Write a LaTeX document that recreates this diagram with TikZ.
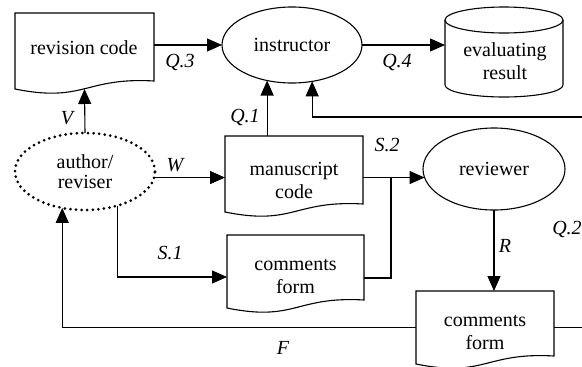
\documentclass[tikz,border=0pt]{standalone}
\usepackage{fontspec}
\setmainfont{Liberation Serif}
\usetikzlibrary{arrows.meta,calc,shapes.geometric}
\newcommand\docoutline[1]{\draw[ln] (#1.south west) -- (#1.north west) -- (#1.north east) -- ([yshift=8pt]#1.south east) .. controls ([yshift=12pt]#1.south) and ([yshift=-14pt]#1.south) .. (#1.south west) -- cycle;}
\begin{document}
\begin{tikzpicture}[x=1pt,y=-1pt,
  every node/.style={font=\fontsize{20}{23}\selectfont},
  ln/.style={line width=1.1pt},
  arr/.style={ln,-{Triangle[length=15pt,width=13pt]}},
  docbox/.style={draw=none,rectangle,inner sep=0pt,outer sep=0pt},
  oval/.style={draw,ellipse,line width=1.1pt,inner sep=0pt,outer sep=0pt},
  dotoval/.style={draw,ellipse,inner sep=0pt,outer sep=0pt,line width=3pt,dash pattern=on 0pt off 5.6pt,line cap=round},
  lbl/.style={font=\fontsize{20}{23}\selectfont\itshape},
  txt/.style={align=center}]
\fill[white] (0,0) rectangle (582,367);
\useasboundingbox (0,0) rectangle (582,367);
\clip (0,0) rectangle (582,367);

% nodes
\node[docbox,minimum width=139pt,minimum height=76pt] (rc) at (84.5,51) {};
\node[oval,minimum width=140pt,minimum height=76pt] (ins) at (292,45) {instructor};
\node[docbox,minimum width=118pt,minimum height=90pt] (ev) at (504,52) {};
\node[dotoval,minimum width=140pt,minimum height=77pt,align=center,font=\fontsize{20}{20}\selectfont] (auth) at (85,171.5) {author/\\reviser};
\node[docbox,minimum width=138pt,minimum height=76pt] (ms) at (294,174) {};
\node[oval,minimum width=142pt,minimum height=82pt] (rv) at (494,169) {reviewer};
\node[docbox,minimum width=137pt,minimum height=73pt] (cf) at (295.5,271.5) {};
\node[docbox,minimum width=138pt,minimum height=73pt] (lc) at (485,327.5) {};

% shapes
\docoutline{rc}
\docoutline{ms}
\docoutline{cf}
\docoutline{lc}
\draw[ln] ([yshift=-13pt]ev.north west) -- ([yshift=12pt]ev.south west) arc[start angle=180,end angle=360,x radius=59pt,y radius=12pt] -- ([yshift=-13pt]ev.north east);
\draw[ln] ([yshift=-13pt]ev.north) ellipse[x radius=59pt,y radius=13pt];

% texts
\node[txt] at (84,48) {revision code};
\node[txt] at (505,61) {evaluating\\result};
\node[txt] at (294,180) {manuscript\\code};
\node[txt] at (295.5,276.5) {comments\\form};
\node[txt] at (485,332) {comments\\form};

% labels
\node[lbl] at (180,62) {Q.3};
\node[lbl] at (397,62) {Q.4};
\node[lbl] at (67,118) {V};
\node[lbl] at (245,117) {Q.1};
\node[lbl] at (175,165) {W};
\node[lbl] at (387,145) {S.2};
\node[lbl] at (170,253) {S.1};
\node[lbl] at (505,246) {R};
\node[lbl] at (283,348) {F};
\node[lbl] at (567,229) {Q.2};

% connectors
\coordinate (jx) at (391,0);
\coordinate (xr) at (600,0);
\coordinate (yq) at (0,117);
\draw[arr] (auth.north) -- (rc.south);
\draw[arr] (rc.east |- ins.west) -- (ins.west);
\draw[arr] (ins.east) -- (ins.east -| ev.west);
\draw[arr] (ins.235 |- ms.north) -- (ins.235);
\draw[arr] (auth.355) -- (auth.355 -| ms.west);
\draw[arr] (rv.187 -| ms.east) -- (rv.187);
\draw[ln] ([yshift=-6.5pt]cf.east) -| (rv.187 -| jx);
\draw[arr] (auth.314) |- ([yshift=-5.5pt]cf.west);
\draw[arr] (rv.south) -- (rv.south |- lc.north);
\draw[arr] (lc.west) -| (auth.238);
\draw[arr] (lc.east) -- (lc.east -| xr) -- (xr |- yq) -| (ins.299);
\end{tikzpicture}
\end{document}
